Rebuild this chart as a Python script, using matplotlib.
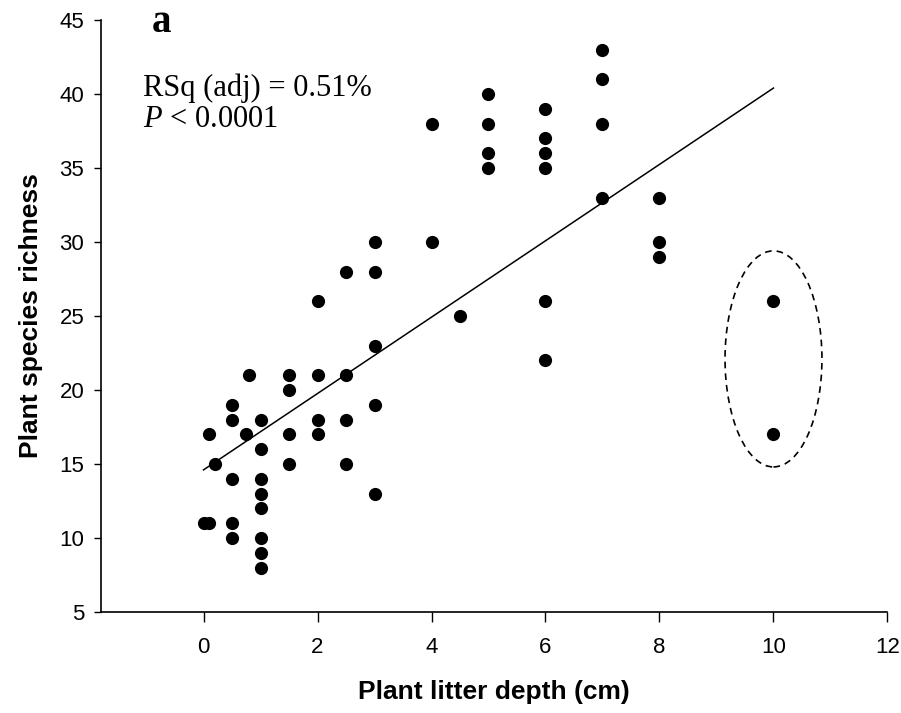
import numpy as np
import matplotlib.pyplot as plt
from matplotlib.patches import Ellipse

plt.rcParams['mathtext.fontset'] = 'custom'
plt.rcParams['mathtext.rm'] = 'Liberation Serif'
plt.rcParams['mathtext.it'] = 'Liberation Serif:italic'

# datos
litter = np.array([0, 0.1, 0.1, 0.2,
                   0.5, 0.5, 0.5, 0.5, 0.5,
                   0.75, 0.8,
                   1, 1, 1, 1, 1, 1, 1, 1,
                   1.5, 1.5, 1.5, 1.5,
                   2, 2, 2, 2,
                   2.5, 2.5, 2.5, 2.5,
                   3, 3, 3, 3, 3,
                   4, 4,
                   4.5,
                   5, 5, 5, 5,
                   6, 6, 6, 6, 6, 6,
                   7, 7, 7, 7,
                   8, 8, 8,
                   10, 10])
richness = np.array([11, 11, 17, 15,
                     19, 18, 14, 11, 10,
                     17, 21,
                     18, 16, 14, 13, 12, 10, 9, 8,
                     21, 20, 17, 15,
                     26, 21, 18, 17,
                     28, 21, 18, 15,
                     30, 28, 23, 19, 13,
                     38, 30,
                     25,
                     40, 38, 36, 35,
                     39, 37, 36, 35, 26, 22,
                     43, 41, 38, 33,
                     33, 30, 29,
                     26, 17])

# recta ajustada
intercept = 14.6
slope = 2.58
line_x = np.array([0, 10])

# elipse alrededor de los puntos en x = 10
ell_center = (10, 22.1)
ell_w, ell_h = 1.7, 14.6

fig = plt.figure(figsize=(9.01, 7.13), dpi=100)
ax = fig.add_axes([0.112, 0.1417, 0.873, 0.8303])

ax.plot(litter, richness, 'o', color='black', ms=9.5, mew=0)
ax.plot(line_x, intercept + slope * line_x, color='black', lw=1.1)
ax.add_patch(Ellipse(ell_center, ell_w, ell_h, fill=False, ls=(0, (4, 3)),
                     lw=1.2, color='black'))

ax.set_xlim(-1.8, 12)
ax.set_ylim(5, 45)
ax.set_xticks(np.arange(0, 13, 2))
ax.set_yticks(np.arange(5, 46, 5))
for s in ['top', 'right']:
    ax.spines[s].set_visible(False)
for s in ['left', 'bottom']:
    ax.spines[s].set_linewidth(1.2)

ax.tick_params(axis='x', direction='out', length=7, width=1, pad=11,
               labelsize=16)
ax.tick_params(axis='y', direction='out', length=5, width=1, pad=7,
               labelsize=16)
for lab in ax.get_xticklabels() + ax.get_yticklabels():
    lab.set_family('Liberation Sans')

ax.set_xlabel('Plant litter depth (cm)', fontsize=19, fontweight='bold',
              family='Liberation Sans', labelpad=16)
ax.set_ylabel('Plant species richness', fontsize=19, fontweight='bold',
              family='Liberation Sans', labelpad=12)

fig.text(152 / 901, 1 - 32 / 713, 'a', fontsize=28, fontweight='bold',
         family='Liberation Serif', va='baseline')
fig.text(143 / 901, 1 - 96 / 713, 'RSq (adj) = 0.51%', fontsize=22,
         family='Liberation Serif', va='baseline')
fig.text(143 / 901, 1 - 127 / 713, r'$P$ < 0.0001', fontsize=22,
         family='Liberation Serif', va='baseline')

fig.savefig('out.png', dpi=100)
